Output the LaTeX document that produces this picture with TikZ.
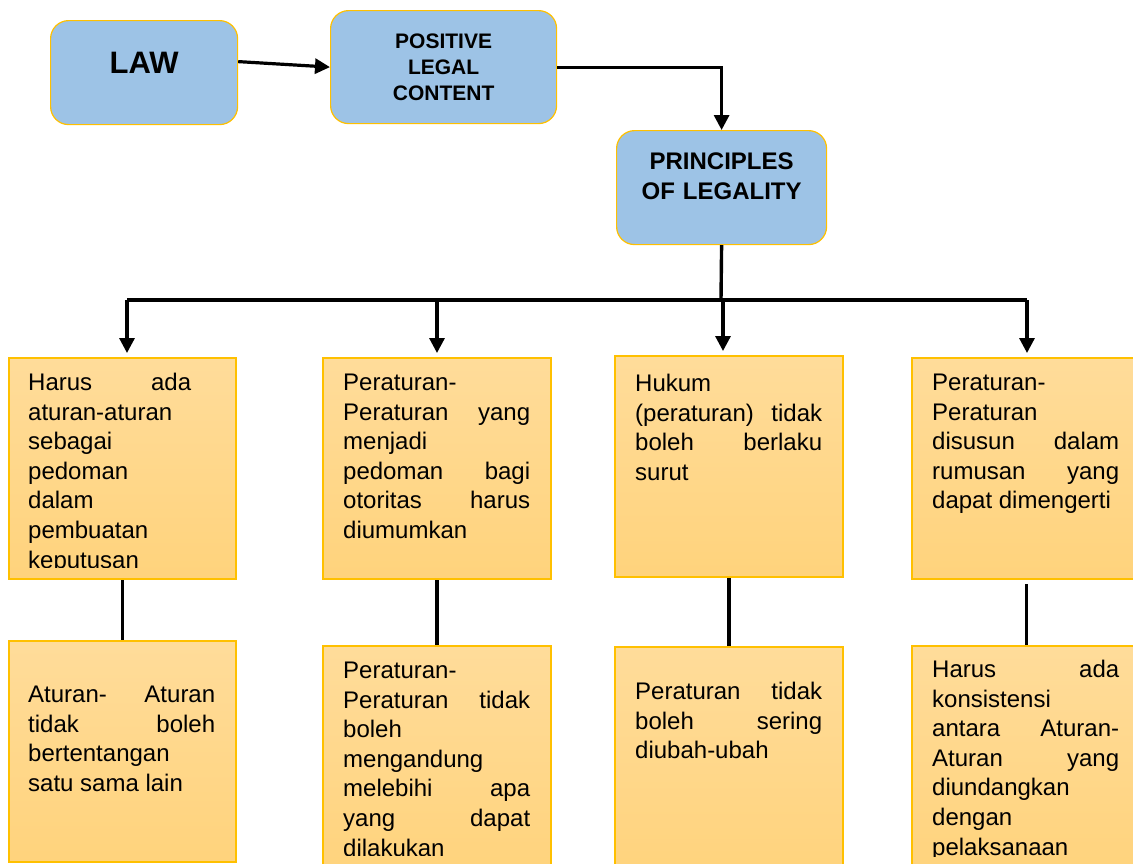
\documentclass[tikz,border=0pt]{standalone}
\usepackage{fontspec}
\setmainfont{Liberation Sans}
\usetikzlibrary{arrows.meta}
\definecolor{gold}{HTML}{FFC000}
\definecolor{skyblue}{HTML}{9DC3E6}
\definecolor{paleorange}{HTML}{FFDC9A}
\definecolor{deeporange}{HTML}{FFD37C}
\hbadness=10000
\tikzset{
  headbox/.style={draw=gold, line width=1.2pt, fill=skyblue, rounded corners=18pt,
    inner sep=0pt, align=center, anchor=north west, font=\bfseries},
  rulebox/.style={draw=gold, line width=2pt, top color=paleorange, bottom color=deeporange,
    inner sep=0pt, anchor=north west},
  ruletext/.style={inner sep=0pt, anchor=base west, text width=187pt, align=justify,
    font=\fontsize{24pt}{29.6pt}\selectfont},
  link/.style={line width=3.2pt, -{Triangle[length=15pt,width=15pt]}},
  bar/.style={line width=3.4pt}
}
\begin{document}
\begin{tikzpicture}[x=1pt,y=-1pt]
\useasboundingbox (0,0) rectangle (1133,863);

% heading boxes
\node[headbox, minimum width=187pt, text width=187pt, text height=53pt, text depth=51pt,
  font=\bfseries\fontsize{31pt}{36pt}\selectfont] (law) at (50,20) {LAW};
\node[headbox, minimum width=226pt, text width=226pt, text height=37.5pt, text depth=75.5pt,
  font=\bfseries\fontsize{21pt}{26pt}\selectfont] (positive) at (330,10)
  {POSITIVE\\LEGAL\\CONTENT};
\node[headbox, minimum width=210pt, text width=210pt, text height=38.5pt, text depth=75.5pt,
  font=\bfseries\fontsize{24pt}{30pt}\selectfont] (principles) at (616,130)
  {PRINCIPLES\\OF LEGALITY};

\draw[link] ([yshift=11pt]law.east) -- (positive.west);
\draw[link] (positive.east) -| (principles.north);

% rule boxes
\node[rulebox, minimum width=227pt, minimum height=221pt] (rule1) at (8,357) {};
\node[rulebox, minimum width=228pt, minimum height=221pt] (rule2) at (322,357) {};
\node[rulebox, minimum width=228pt, minimum height=221pt] (rule3) at (614,355) {};
\node[rulebox, minimum width=229pt, minimum height=221pt] (rule4) at (911,357) {};
\node[rulebox, minimum width=227pt, minimum height=221pt] (rule5) at (8,640) {};
\node[rulebox, minimum width=228pt, minimum height=230pt] (rule6) at (322,645) {};
\node[rulebox, minimum width=228pt, minimum height=230pt] (rule7) at (614,646) {};
\node[rulebox, minimum width=229pt, minimum height=230pt] (rule8) at (911,645) {};

% branching
\coordinate (split) at (721,300);
\coordinate (fork1) at (127,300);
\coordinate (fork2) at (437,300);
\coordinate (fork3) at (723,300);
\coordinate (fork4) at (1027,300);
\draw[bar] (principles.south) -- (split);
\draw[bar] (fork1) -- (fork4);
\foreach \i in {1,...,4}
  \draw[link, shorten >=4pt] (fork\i) -- (fork\i |- rule\i.north);

\draw[bar] (rule1.south) -- (rule5.north);
\draw[bar] (rule2.south) -- (rule6.north);
\draw[bar] (rule3.south) -- (rule7.north);
\draw[bar, shorten <=4pt] (rule4.south) -- (rule8.north);

% texts
\begin{scope}
\clip (rule1.north west) rectangle (235,567);
\node[ruletext, text width=163pt] (text1) at (28,390.5) {Harus ada\linebreak
  aturan-aturan\linebreak sebagai\linebreak pedoman\linebreak
  dalam\linebreak pembuatan\linebreak keputusan};
\end{scope}
\node[ruletext] (text2) at (343,390.5) {Peraturan-\linebreak Peraturan yang\linebreak
  menjadi\linebreak pedoman bagi\linebreak otoritas harus\linebreak diumumkan};
\node[ruletext] (text3) at (635,391.5) {Hukum\linebreak (peraturan) tidak\linebreak
  boleh berlaku\linebreak surut};
\node[ruletext] (text4) at (932,390.5) {Peraturan-\linebreak Peraturan\linebreak
  disusun dalam\linebreak rumusan yang\linebreak dapat dimengerti};
\node[ruletext] (text5) at (28,702.5) {Aturan- Aturan\linebreak tidak boleh\linebreak
  bertentangan\linebreak satu sama lain};
\begin{scope}
\clip (322,645) rectangle (550,855);
\node[ruletext] (text6) at (343,678.5) {Peraturan-\linebreak Peraturan tidak\linebreak
  boleh\linebreak mengandung\linebreak melebihi apa\linebreak yang dapat\linebreak dilakukan};
\end{scope}
\node[ruletext] (text7) at (635,699.5) {Peraturan tidak\linebreak boleh sering\linebreak
  diubah-ubah};
\begin{scope}
\clip (911,645) rectangle (1133,856);
\node[ruletext] (text8) at (932,677.5) {Harus ada\linebreak konsistensi\linebreak
  antara Aturan-\linebreak Aturan yang\linebreak diundangkan\linebreak dengan\linebreak pelaksanaan};
\end{scope}
\end{tikzpicture}
\end{document}
